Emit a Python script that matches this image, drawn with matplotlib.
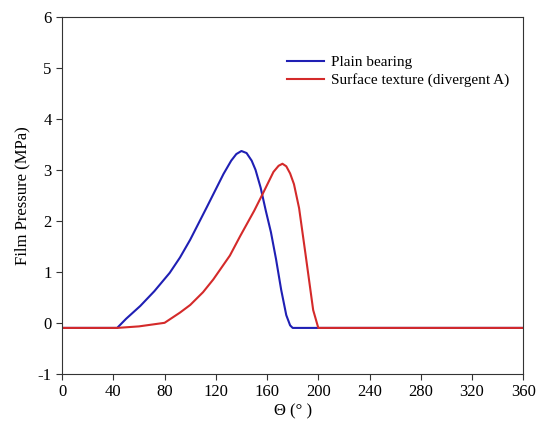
import matplotlib
matplotlib.use("Agg")
import matplotlib.pyplot as plt

# Plain bearing
theta_plain = [0, 43, 50, 61, 72, 84, 92, 100, 113, 126, 132, 136, 140, 144, 148, 151, 155, 159, 163, 167, 171, 175, 178, 180, 200, 360]
p_plain = [-0.1, -0.1, 0.08, 0.33, 0.62, 0.98, 1.28, 1.63, 2.27, 2.92, 3.18, 3.31, 3.37, 3.33, 3.18, 3.0, 2.65, 2.2, 1.78, 1.25, 0.65, 0.15, -0.05, -0.1, -0.1, -0.1]

# Surface texture (divergent A)
theta_tex = [0, 43, 60, 80, 92, 100, 110, 118, 131, 139, 150, 157, 165, 169, 172, 175, 178, 181, 185, 190, 196, 200, 360]
p_tex = [-0.1, -0.1, -0.07, 0.0, 0.2, 0.35, 0.6, 0.85, 1.32, 1.7, 2.2, 2.55, 2.96, 3.08, 3.12, 3.07, 2.93, 2.72, 2.25, 1.35, 0.25, -0.1, -0.1]

x_ticks = list(range(0, 361, 40))
y_ticks = [-1, 0, 1, 2, 3, 4, 5, 6]

plt.rcParams["font.family"] = ["Liberation Serif", "DejaVu Serif"]
plt.rcParams["axes.unicode_minus"] = False

fig = plt.figure(figsize=(5.4, 4.45), dpi=100)
ax = fig.add_axes([0.115, 0.16, 0.854, 0.802])

ax.plot(theta_plain, p_plain, color="#1f1fb4", lw=1.5, label="Plain bearing")
ax.plot(theta_tex, p_tex, color="#d42a2a", lw=1.5, label="Surface texture (divergent A)")

ax.set_xlim(0, 360)
ax.set_ylim(-1, 6)
ax.set_xticks(x_ticks)
ax.set_yticks(y_ticks)
ax.tick_params(labelsize=12, direction="out", length=4, color="#333333")
for s in ax.spines.values():
    s.set_color("#333333")

ax.set_xlabel("\u0398 (\u00b0 )", fontsize=12, labelpad=2)
ax.set_ylabel("Film Pressure (MPa)", fontsize=12, labelpad=5)

ax.legend(loc="upper right", bbox_to_anchor=(1.0, 0.93), frameon=False, fontsize=11,
          handlelength=2.4, handletextpad=0.5, labelspacing=0.25)

fig.savefig("out.png", dpi=100)
